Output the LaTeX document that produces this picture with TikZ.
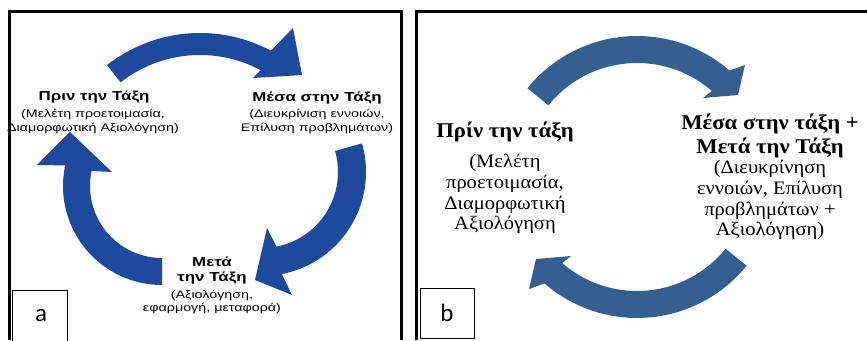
\documentclass[tikz,border=0pt]{standalone}
\usepackage{fontspec}
\setmainfont{Liberation Serif}
\setsansfont{Liberation Sans}
\newfontfamily\lblfont{Carlito}
\usetikzlibrary{calc}
\definecolor{arrA}{RGB}{30,74,158}
\definecolor{arrB}{RGB}{54,95,145}
\begin{document}
\begin{tikzpicture}[x=1pt,y=1pt,
  txa/.style={font=\sffamily\fontsize{11}{13}\selectfont,align=center,inner sep=0,xscale=1.3,transform shape},
  ttla/.style={txa,font=\sffamily\bfseries\fontsize{13}{15}\selectfont},
  txb/.style={font=\rmfamily\fontsize{19}{20.7}\selectfont,align=center,inner sep=0,xscale=1.08,transform shape},
  ttlb/.style={txb,font=\rmfamily\bfseries\fontsize{21}{24}\selectfont},
  lbl/.style={font=\lblfont\fontsize{25}{25}\selectfont,inner sep=0}]
\useasboundingbox (0,0) rectangle (867,340);
\fill[white] (0,0) rectangle (867,340);
% frames
\draw[line width=3pt] (9.5,0)--(9.5,328)--(401.5,328)--(401.5,0);
\draw[line width=3pt] (416,0)--(416,328)--(867,328);
\draw[line width=0.8pt] (12,-2) rectangle (67,50);
\draw[line width=0.8pt] (420,2) rectangle (474,52);
\node[lbl] (la) at (41,24) {a};
\node[lbl] (lb) at (447,27) {b};
% panel a
\coordinate (cT) at (200,156);
\coordinate (cR) at (262,168);
\coordinate (cL) at (162,154);
\fill[arrA] ($(cT)+(128:151)$) arc[start angle=128,end angle=62,radius=151] -- (293,312) -- (302,265) -- (253,262) -- ($(cT)+(62:129)$) arc[start angle=62,end angle=128,radius=129] -- cycle;
\fill[arrA] ($(cR)+(16:104)$) arc[start angle=16,end angle=-79,radius=104] -- (292,45) -- (255,60) -- (267,112) -- ($(cR)+(-79:76)$) arc[start angle=-79,end angle=16,radius=76] -- cycle;
\fill[arrA] ($(cL)+(270:99)$) arc[start angle=270,end angle=168,radius=99] -- (37,175) -- (70,208) -- (112,168) -- ($(cL)+(168:72)$) arc[start angle=168,end angle=270,radius=72] -- cycle;
\node[ttla] (prinT) at (94,243) {Πριν την Τάξη};
\node[txa] (prinD) at (93,218.5) {(Μελέτη προετοιμασία,\\Διαμορφωτική Αξιολόγηση)};
\node[ttla] (mesaT) at (317,242) {Μέσα στην Τάξη};
\node[txa] (mesaD) at (317,218.5) {(Διευκρίνιση εννοιών,\\Επίλυση προβλημάτων)};
\node[ttla] (metaT) at (212,69.5) {Μετά\\την Τάξη};
\node[txa] (metaD) at (212,38.5) {(Αξιολόγηση,\\εφαρμογή, μεταφορά)};
% panel b
\coordinate (cB) at (637,163);
\fill[arrB] ($(cB)+(141:141)$) arc[start angle=141,end angle=49,radius=141] -- (745,275) -- (738,245) -- (703,242) -- ($(cB)+(49:114)$) arc[start angle=49,end angle=141,radius=114] -- cycle;
\fill[arrB] ($(cB)+(-39:141)$) arc[start angle=-39,end angle=-131,radius=141] -- (529,51) -- (536,81) -- (571,84) -- ($(cB)+(-131:114)$) arc[start angle=-131,end angle=-39,radius=114] -- cycle;
\node[ttlb] (prinBT) at (505,208) {Πρίν την τάξη};
\node[txb] (prinBD) at (505,146) {(Μελέτη\\προετοιμασία,\\Διαμορφωτική\\Αξιολόγηση};
\node[ttlb] (mesaBT) at (770,204) {Μέσα στην τάξη +\\Μετά την Τάξη};
\node[txb] (mesaBD) at (770,140) {(Διευκρίνηση\\εννοιών, Επίλυση\\προβλημάτων +\\Αξιολόγηση)};
\end{tikzpicture}
\end{document}
